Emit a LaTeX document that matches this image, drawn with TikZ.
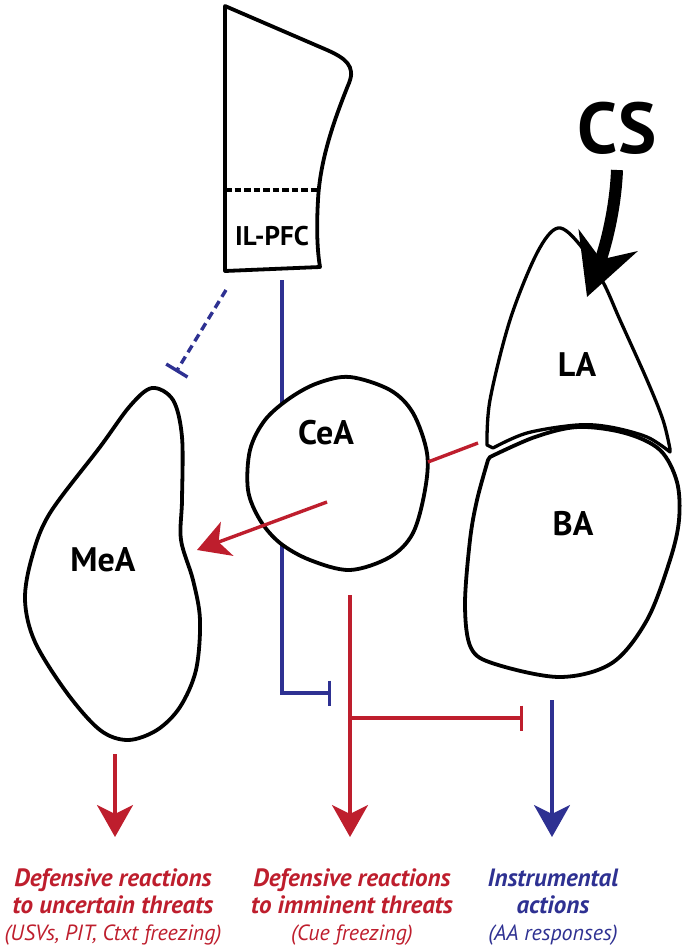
\documentclass[tikz,border=0pt]{standalone}
\usepackage{fontspec}
\setmainfont{PT Sans}
\usetikzlibrary{arrows.meta}
\definecolor{myred}{HTML}{BE1E2D}
\definecolor{myblue}{HTML}{2E3192}
\newcommand{\sublinefont}{\fontsize{22}{27}\selectfont\itshape}
\begin{document}
\begin{tikzpicture}[x=1pt,y=-1pt,
  region/.style={line width=3.8pt, line join=round},
  lbl/.style={font=\bfseries\fontsize{34}{34}\selectfont, inner sep=0pt},
  conn/.style={line width=3.4pt},
  tipA/.style={-{Stealth[length=32pt,width=36pt,inset=9pt]}},
  inhib/.style={-{Bar[width=25pt]}},
  outtxt/.style={align=center, font=\fontsize{25}{27}\selectfont, inner sep=0pt}]
\useasboundingbox (0,0) rectangle (686,948);

% connector end points
\coordinate (ilpfcOut) at (282,280);
\coordinate (blueCorner) at (282,693);
\coordinate (blueBar) at (331,693);
\coordinate (dashStart) at (226,290);
\coordinate (dashEnd) at (176,372);
\coordinate (ceaOut) at (327,502);
\coordinate (meaIn) at (197,550);
\coordinate (labaJ) at (478,443);
\coordinate (ceaR) at (428,462);
\coordinate (ceaDown) at (350,595);
\coordinate (tJoin) at (350,718);
\coordinate (redBar) at (523,718);
\coordinate (baDown) at (552,700);
\coordinate (meaDown) at (115,754);
\coordinate (tip1) at (115,837);
\coordinate (tip2) at (350,837);
\coordinate (tip3) at (552,837);
\coordinate (csStart) at (617,170);
\coordinate (csTip) at (587,297);

% blue IL-PFC -> CeA output (inhibitory), drawn behind CeA
\draw[conn, myblue, inhib] (ilpfcOut) -- (blueCorner) -- (blueBar);

% IL-PFC
\draw[region] (225,6) -- (327,50) .. controls (345,58) and (356,66) .. (349,83)
  .. controls (334,120) and (320,160) .. (318,200)
  .. controls (316,235) and (318,255) .. (320,267) -- (225,271) -- cycle;
\draw[line width=3.2pt, dash pattern=on 6.5pt off 3pt] (225,190) -- (318,190);
\node[font=\bfseries\fontsize{27}{27}\selectfont, inner sep=0pt] (ilpfc) at (272,236) {IL-PFC};

% MeA
\draw[region] plot[smooth cycle, tension=0.55] coordinates {(152,388) (173,400) (182,437) (182,500) (181,540) (193,580) (200,620) (196,670) (180,707) (157,730) (128,740) (100,730) (67,693) (35,642) (25,600) (32,557) (50,513) (100,447) (130,406)};
\node[lbl] (mea) at (103,560) {MeA};

% CeA
\filldraw[region, fill=white] plot[smooth cycle, tension=0.55] coordinates {(350,377) (390,390) (413,413) (427,453) (425,490) (413,533) (390,557) (350,570) (310,560) (280,543) (260,520) (248,490) (250,450) (265,420) (290,398) (318,383)};
\node[lbl] (cea) at (326,433) {CeA};

% BA
\draw[region] plot[smooth, tension=0.55] coordinates {(490,457) (535,437) (578,427) (625,433) (660,450) (677,482) (679,520) (670,560) (647,620) (612,663) (560,677) (495,664) (471,648) (465,605) (470,540) (477,500) (488,460)} -- cycle;
\node[lbl] (ba) at (573,524) {BA};

% LA
\draw[region, line width=3.3pt] plot[smooth, tension=0.55] coordinates {(487,445) (490,400) (510,320) (537,253) (558,228) (580,245) (603,282) (620,320) (647,380) (663,420) (670,449)}
  -- plot[smooth, tension=0.55] coordinates {(670,452) (647,437) (610,427) (577,425) (527,433) (493,448)} -- cycle;
\node[lbl] (la) at (577,365) {LA};

% CS
\node[font=\bfseries\fontsize{72}{72}\selectfont, inner sep=0pt] (cs) at (617,128) {CS};
\draw[line width=12pt, -{Stealth[length=60pt,width=62pt,inset=20pt]}] (csStart) .. controls (615,220) and (600,262) .. (csTip);

% dashed blue IL-PFC -> MeA (inhibitory)
\draw[conn, myblue, dash pattern=on 8pt off 5pt, inhib] (dashStart) -- (dashEnd);

% red connections
\draw[conn, myred] (labaJ) -- (ceaR);
\draw[conn, myred, tipA] (ceaOut) -- (meaIn);
\draw[conn, myred, tipA] (ceaDown) -- (tip2);
\draw[conn, myred, inhib] (tJoin) -- (redBar);
\draw[conn, myred, tipA] (meaDown) -- (tip1);
\draw[conn, myblue, tipA] (baDown) -- (tip3);

% outputs
\node[outtxt, myred] (out1) at (113,907) {\textbf{\itshape Defensive reactions}\\ \textbf{\itshape to uncertain threats}\\ {\sublinefont (USVs, PIT, Ctxt freezing)}};
\node[outtxt, myred] (out2) at (352,907) {\textbf{\itshape Defensive reactions}\\ \textbf{\itshape to imminent threats}\\ {\sublinefont (Cue freezing)}};
\node[outtxt, myblue] (out3) at (553,907) {\textbf{\itshape Instrumental}\\ \textbf{\itshape actions}\\ {\sublinefont (AA responses)}};
\end{tikzpicture}
\end{document}
